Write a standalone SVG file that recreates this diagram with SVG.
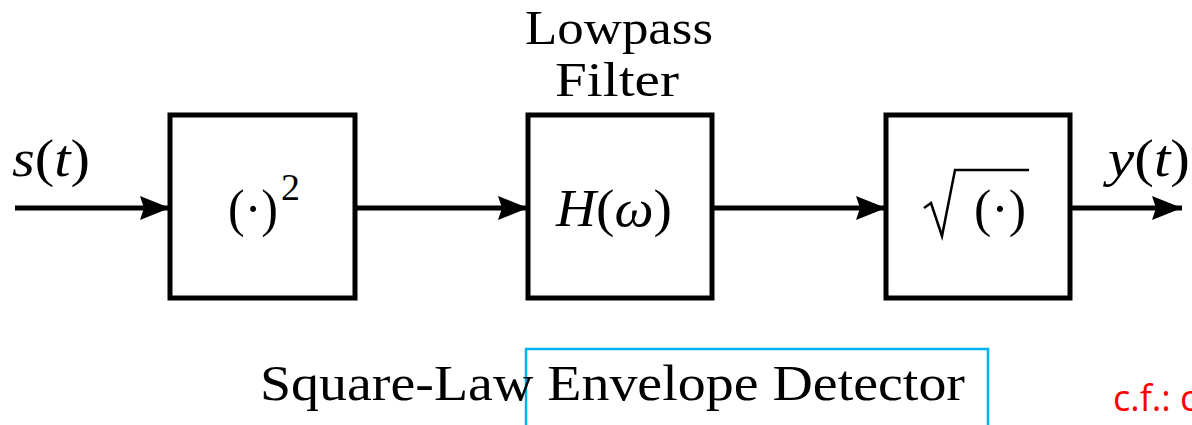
<svg xmlns="http://www.w3.org/2000/svg" width="1192" height="425" viewBox="0 0 1192 425">
<style>
.box{fill:#fff;stroke:#000;stroke-width:5}
.wire{stroke:#000;stroke-width:5;fill:none}
.t{font-family:"Liberation Serif","DejaVu Serif",serif;fill:#000}
.i{font-style:italic}
</style>
<defs>
<marker id="a" viewBox="0 0 30 24" refX="30" refY="12" markerWidth="30" markerHeight="24" orient="auto" markerUnits="userSpaceOnUse">
<path d="M0,0 L30,12 L0,24 L4,12 Z" fill="#000"/>
</marker>
</defs>
<rect width="1192" height="425" fill="#fff"/>
<g id="connectors">
<line class="wire" x1="15" y1="208" x2="170" y2="208" marker-end="url(#a)"/>
<line class="wire" x1="355" y1="208" x2="528" y2="208" marker-end="url(#a)"/>
<line class="wire" x1="712" y1="208" x2="886" y2="208" marker-end="url(#a)"/>
<line class="wire" x1="1070" y1="208" x2="1182" y2="208" marker-end="url(#a)"/>
</g>
<g id="square">
<rect class="box" x="170" y="115" width="185" height="183"/>
<text class="t" x="228" y="226" font-size="52" textLength="50" lengthAdjust="spacingAndGlyphs">(·)</text>
<text class="t" x="281" y="200" font-size="38">2</text>
</g>
<g id="lowpass">
<rect class="box" x="528" y="115" width="184" height="183"/>
<text class="t" x="556" y="226" font-size="52" textLength="116" lengthAdjust="spacingAndGlyphs"><tspan class="i">H</tspan>(<tspan class="i">ω</tspan>)</text>
<text class="t" x="525" y="44" font-size="48" textLength="188" lengthAdjust="spacingAndGlyphs">Lowpass</text>
<text class="t" x="555" y="96" font-size="48" textLength="124" lengthAdjust="spacingAndGlyphs">Filter</text>
</g>
<g id="sqrt">
<rect class="box" x="886" y="115" width="184" height="183"/>
<path d="M924,208 L931,203 L942,236 L955,170 L1029,170" fill="none" stroke="#000" stroke-width="2.5" stroke-linejoin="miter"/>
<text class="t" x="974" y="226" font-size="52" textLength="52" lengthAdjust="spacingAndGlyphs">(·)</text>
</g>
<g id="labels">
<text class="t i" x="12" y="176" font-size="52" textLength="78" lengthAdjust="spacingAndGlyphs">s<tspan font-style="normal">(</tspan>t<tspan font-style="normal">)</tspan></text>
<text class="t i" x="1108" y="176" font-size="52" textLength="82" lengthAdjust="spacingAndGlyphs">y<tspan font-style="normal">(</tspan>t<tspan font-style="normal">)</tspan></text>
<rect x="526" y="349" width="462" height="90" fill="none" stroke="#00B0F0" stroke-width="2.5"/>
<text class="t" x="260" y="400" font-size="50" textLength="705" lengthAdjust="spacingAndGlyphs">Square-Law Envelope Detector</text>
<text x="1113" y="411" font-family="'Open Sans','Liberation Sans',sans-serif" font-size="36" fill="#FF0000">c.f.: c</text>
</g>
</svg>
